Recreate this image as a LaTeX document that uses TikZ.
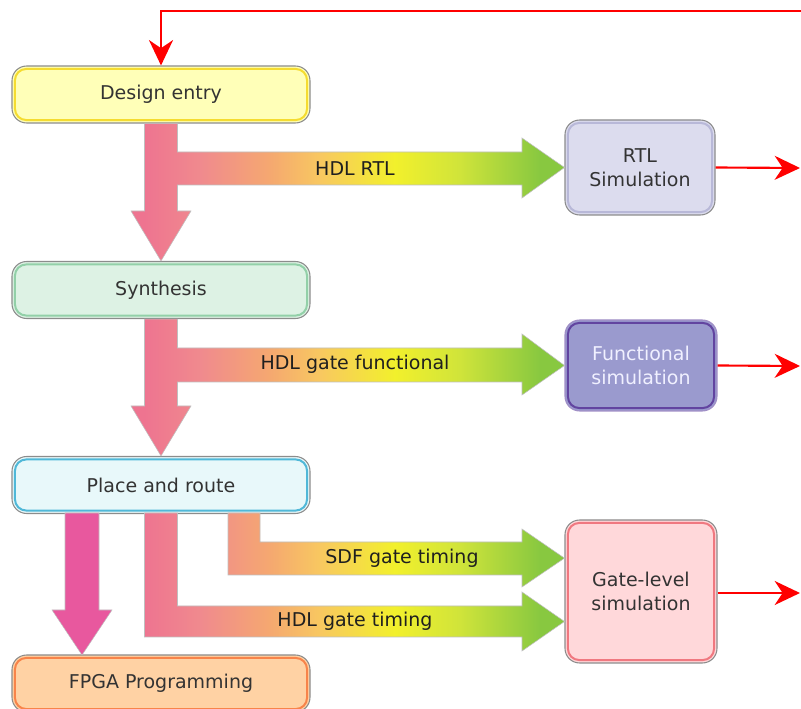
\documentclass[tikz,border=0pt]{standalone}
\usepackage{fontspec}
\setmainfont{DejaVu Sans}
\usetikzlibrary{arrows.meta}
\definecolor{deFill}{HTML}{FFFFB8}\definecolor{deLine}{HTML}{F5DC30}
\definecolor{synFill}{HTML}{DDF2E4}\definecolor{synLine}{HTML}{92D0A8}
\definecolor{parFill}{HTML}{E8F8FA}\definecolor{parLine}{HTML}{50B8D8}
\definecolor{fpgaFill}{HTML}{FFD2A4}\definecolor{fpgaLine}{HTML}{F8844A}
\definecolor{rtlFill}{HTML}{DCDCEE}\definecolor{rtlLine}{HTML}{B8B8D8}
\definecolor{funFill}{HTML}{9A9ACE}\definecolor{funLine}{HTML}{6244A0}
\definecolor{glsFill}{HTML}{FFD8DA}\definecolor{glsLine}{HTML}{F07880}
\definecolor{flowa}{HTML}{EE7490}\definecolor{flowb}{HTML}{F08A8E}
\definecolor{flowc}{HTML}{F5A870}\definecolor{flowd}{HTML}{F8C860}
\definecolor{flowe}{HTML}{F2F02C}\definecolor{flowf}{HTML}{D0E43A}
\definecolor{flowg}{HTML}{88C840}\definecolor{progPink}{HTML}{E8589E}
\pgfdeclarehorizontalshading{flowgrad}{100bp}{color(0bp)=(flowa); color(37bp)=(flowa); color(41.7bp)=(flowb); color(47.5bp)=(flowc); color(51.7bp)=(flowd); color(57.9bp)=(flowe); color(63.3bp)=(flowf); color(70bp)=(flowg); color(100bp)=(flowg)}
\tikzset{
  stage/.style={draw=black!45, line width=0.8pt, rounded corners=11pt, minimum width=223.5pt, minimum height=42.75pt, text=black!80},
  sim/.style={stage, minimum width=114pt, align=center},
  flow/.style={draw=black!25, line width=0.4pt, path picture={\shade[shading=flowgrad] (0,0) rectangle (600,709);}},
  feedback/.style={red, line width=1.6pt, -{Stealth[length=19pt,width=18pt,inset=6pt]}},
  flowlabel/.style={text=black!88}
}
\begin{document}
\begin{tikzpicture}[x=0.75pt,y=-0.75pt,font=\fontsize{14.25}{18}\selectfont]
  \useasboundingbox (0,0) rectangle (801,709);
  \node[stage,fill=deFill] (de) at (161,94.5) {Design entry};
  \node[stage,fill=synFill] (syn) at (161,290) {Synthesis};
  \node[stage,fill=parFill] (par) at (161,485) {Place and route};
  \node[stage,fill=fpgaFill] (fpga) at (161,683.5) {FPGA Programming};
  \node[sim,fill=rtlFill,minimum width=112.5pt,minimum height=71.25pt] (rtl) at (640,167.5) {RTL\\Simulation};
  \node[sim,fill=funFill,draw=funLine!60!white,text=white!94!blue,minimum height=68.25pt] (fun) at (641,365.5) {Functional\\simulation};
  \node[sim,fill=glsFill,minimum height=107.25pt] (gls) at (641,591.5) {Gate-level\\simulation};
  \foreach \n/\c in {de/deLine,syn/synLine,par/parLine,fpga/fpgaLine,rtl/rtlLine,fun/funLine,gls/glsLine}
    \draw[\c,line width=1.5pt,rounded corners=8.5pt] ([shift={(2.6pt,-2.6pt)}]\n.north west) rectangle ([shift={(-2.6pt,2.6pt)}]\n.south east);

  \path[flow] (de.south) ++(-16.5,0) -- ++(33,0) -- (177.5,152) -- (522,152) -- (522,138) -- (rtl.west)
    -- (522,198) -- (522,185) -- (177.5,185) -- (177.5,211) -- (191,211) -- (syn.north) -- (131,211) -- (144.5,211) -- cycle;
  \path[flow] (syn.south) ++(-16.5,0) -- ++(33,0) -- (177.5,348) -- (522,348) -- (522,334) -- (fun.west)
    -- (522,395) -- (522,382) -- (177.5,382) -- (177.5,406) -- (191,406) -- (par.north) -- (131,406) -- (144.5,406) -- cycle;
  \path[flow] (228,513) -- (260,513) -- (260,542) -- (522,542) -- (522,529) -- ([yshift=25pt]gls.west)
    -- (522,587) -- (522,575) -- (228,575) -- cycle;
  \path[flow] (144.5,513) -- (177.5,513) -- (177.5,606) -- (522,606) -- (522,592) -- ([yshift=-22.5pt]gls.west)
    -- (522,651) -- (522,637) -- (144.5,637) -- cycle;
  \path[draw=black!25,line width=0.4pt,fill=progPink] (65,513) -- (99,513) -- (99,610) -- (112,610) -- (82,655)
    -- (52,610) -- (65,610) -- cycle;

  \node[flowlabel] (rtltxt) at (355,169) {HDL RTL};
  \node[flowlabel] (funtxt) at (355,364.5) {HDL gate functional};
  \node[flowlabel] (sdftxt) at (402,558) {SDF gate timing};
  \node[flowlabel] (gattxt) at (355,621.5) {HDL gate timing};

  \coordinate (back) at (801,11);
  \coordinate (rtlout) at (800,168);
  \coordinate (funout) at (800,366);
  \coordinate (glsout) at (800,593);
  \draw[feedback] (back) -| (de.north);
  \draw[feedback] (rtl.east) -- (rtlout);
  \draw[feedback] (fun.east) -- (funout);
  \draw[feedback] (gls.east |- glsout) -- (glsout);
\end{tikzpicture}
\end{document}
